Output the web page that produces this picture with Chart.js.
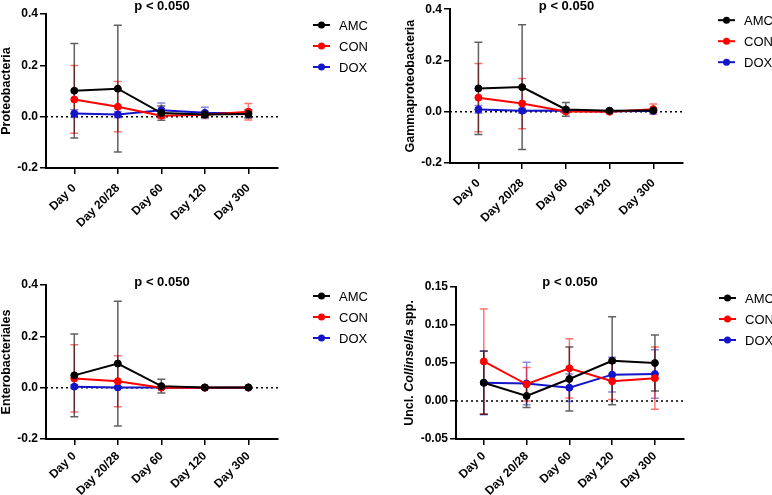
<!DOCTYPE html>
<html>
<head>
<meta charset="utf-8">
<script src="https://cdn.jsdelivr.net/npm/chart.js@4.4.1/dist/chart.umd.min.js"></script>
<style>
  body { margin: 0; background: #fff; }
  #wrap { position: relative; width: 772px; height: 495px; overflow: hidden; }
  canvas { position: absolute; }
</style>
</head>
<body>
<div id="wrap">
  <canvas id="proteo" width="386" height="248" style="left:0;top:0"></canvas>
  <canvas id="gamma" width="386" height="248" style="left:386px;top:0"></canvas>
  <canvas id="entero" width="386" height="247" style="left:0;top:248px"></canvas>
  <canvas id="coll" width="386" height="247" style="left:386px;top:248px"></canvas>
</div>
<script>
const dayLabels = ['Day 0', 'Day 20/28', 'Day 60', 'Day 120', 'Day 300'];
const groupNames = ['AMC', 'CON', 'DOX'];
const groupColors = ['#000000', '#ff0000', '#1414c8'];
const barColors = ['rgba(0,0,0,0.62)', 'rgba(255,0,0,0.55)', 'rgba(20,20,200,0.5)'];

const bigTicks = [-0.2, 0, 0.2, 0.4];
const collTicks = [-0.05, 0, 0.05, 0.10, 0.15];

// Proteobacteria
const proteoAmc = [0.101, 0.109, 0.014, 0.008, 0.010];
const proteoAmcSd = [0.184, 0.247, 0.028, 0.010, 0.015];
const proteoCon = [0.067, 0.039, 0.004, 0.007, 0.019];
const proteoConSd = [0.132, 0.098, 0.010, 0.008, 0.032];
const proteoDox = [0.012, 0.008, 0.025, 0.015, 0.013];
const proteoDoxSd = [0.015, 0.012, 0.028, 0.022, 0.015];

// Gammaproteobacteria
const gammaAmc = [0.091, 0.096, 0.009, 0.004, 0.005];
const gammaAmcSd = [0.180, 0.243, 0.027, 0.004, 0.006];
const gammaCon = [0.055, 0.032, 0.001, 0.000, 0.010];
const gammaConSd = [0.133, 0.098, 0.005, 0.003, 0.020];
const gammaDox = [0.009, 0.004, 0.005, 0.002, 0.003];
const gammaDoxSd = [0.015, 0.010, 0.010, 0.003, 0.004];

// Enterobacteriales
const enteroAmc = [0.048, 0.094, 0.006, 0.001, 0.001];
const enteroAmcSd = [0.161, 0.243, 0.027, 0.001, 0.002];
const enteroCon = [0.036, 0.025, 0.000, 0.000, 0.001];
const enteroConSd = [0.131, 0.099, 0.004, 0.001, 0.001];
const enteroDox = [0.004, 0.001, 0.001, 0.000, 0.000];
const enteroDoxSd = [0.007, 0.003, 0.003, 0.001, 0.001];

// Uncl. Collinsella spp.
const collAmc = [0.024, 0.0066, 0.029, 0.053, 0.050];
const collAmcSd = [0.0415, 0.015, 0.042, 0.058, 0.037];
const collCon = [0.052, 0.022, 0.043, 0.026, 0.030];
const collConSd = [0.069, 0.022, 0.039, 0.024, 0.041];
const collDox = [0.024, 0.023, 0.0175, 0.0347, 0.0355];
const collDoxSd = [0.042, 0.028, 0.018, 0.023, 0.032];

const fontFamily = "'Liberation Sans', Arial, Helvetica, sans-serif";

// dotted zero line + mean ± SD whiskers, under the lines
const errorBars = {
  id: 'errorBars',
  beforeDatasetsDraw(chart) {
    const { ctx, chartArea, scales: { x, y } } = chart;
    const zy = y.getPixelForValue(0);
    ctx.save();
    ctx.strokeStyle = '#000';
    ctx.lineWidth = 1.5;
    ctx.setLineDash([2, 3]);
    ctx.beginPath();
    ctx.moveTo(chartArea.left, zy);
    ctx.lineTo(chartArea.right, zy);
    ctx.stroke();
    ctx.setLineDash([]);

    for (let d = chart.data.datasets.length - 1; d >= 0; d -= 1) {
      const ds = chart.data.datasets[d];
      ctx.strokeStyle = ds.barColor;
      ds.data.forEach((p, i) => {
        const px = x.getPixelForValue(p.x);
        const hi = y.getPixelForValue(p.y + ds.sd[i]);
        const lo = y.getPixelForValue(p.y - ds.sd[i]);
        ctx.beginPath();
        ctx.moveTo(px, hi);
        ctx.lineTo(px, lo);
        ctx.moveTo(px - 4, hi);
        ctx.lineTo(px + 4, hi);
        ctx.moveTo(px - 4, lo);
        ctx.lineTo(px + 4, lo);
        ctx.stroke();
      });
    }
    ctx.restore();
  },
};

// title, y-axis title (with italic part) and legend
const decorations = {
  id: 'decorations',
  afterDraw(chart, args, opts) {
    const { ctx, chartArea, scales: { y } } = chart;
    ctx.save();
    ctx.fillStyle = '#000';

    ctx.font = `bold 13px ${fontFamily}`;
    ctx.textAlign = 'center';
    ctx.textBaseline = 'middle';
    ctx.fillText(opts.title, (chartArea.left + chartArea.right) / 2, chartArea.top + opts.titleOffset);

    ctx.font = `bold 12px ${fontFamily}`;
    const labelW = Math.max(...y.ticks.map((t) => ctx.measureText(String(t.label)).width));
    const tx = chartArea.left - 8 - labelW - 11;
    const ty = (chartArea.top + chartArea.bottom) / 2;
    const fontFor = (seg) => `${seg.italic ? 'italic ' : ''}bold 12.5px ${fontFamily}`;
    let total = 0;
    opts.yTitle.forEach((seg) => {
      ctx.font = fontFor(seg);
      total += ctx.measureText(seg.text).width;
    });
    ctx.translate(tx, ty);
    ctx.rotate(-Math.PI / 2);
    ctx.textAlign = 'left';
    let cx = -total / 2;
    opts.yTitle.forEach((seg) => {
      ctx.font = fontFor(seg);
      ctx.fillText(seg.text, cx, 0);
      cx += ctx.measureText(seg.text).width;
    });
    ctx.setTransform(1, 0, 0, 1, 0, 0);

    ctx.font = `13px ${fontFamily}`;
    ctx.textAlign = 'left';
    chart.data.datasets.forEach((ds, i) => {
      const lx = chartArea.right + 35;
      const ly = chartArea.top + 11 + i * 21;
      ctx.strokeStyle = ds.borderColor;
      ctx.lineWidth = 2;
      ctx.beginPath();
      ctx.moveTo(lx, ly);
      ctx.lineTo(lx + 17, ly);
      ctx.stroke();
      ctx.fillStyle = ds.borderColor;
      ctx.beginPath();
      ctx.arc(lx + 8.5, ly, 3.5, 0, Math.PI * 2);
      ctx.fill();
      ctx.fillStyle = '#000';
      ctx.fillText(ds.label, lx + 26, ly + 1);
    });
    ctx.restore();
  },
};

const makePanel = (canvasId, cfg) => {
  const tickFont = { family: fontFamily, size: 12, weight: 'bold' };
  new Chart(document.getElementById(canvasId), {
    type: 'line',
    data: {
      datasets: groupNames.map((name, g) => ({
        label: name,
        data: cfg.means[g].map((v, i) => ({ x: i, y: v })),
        sd: cfg.sds[g],
        barColor: barColors[g],
        borderColor: groupColors[g],
        backgroundColor: groupColors[g],
        borderWidth: 2,
        pointRadius: 3.5,
        pointHoverRadius: 3.5,
        pointBorderWidth: 1,
        tension: 0,
      })),
    },
    options: {
      responsive: false,
      animation: false,
      events: [],
      layout: { padding: { top: cfg.top, right: cfg.right, bottom: 0, left: 0 } },
      plugins: {
        legend: { display: false },
        tooltip: { enabled: false },
        decorations: { title: 'p < 0.050', titleOffset: cfg.titleOffset, yTitle: cfg.yTitle },
      },
      scales: {
        x: {
          type: 'linear',
          min: -0.65,
          max: 4.68,
          afterBuildTicks: (s) => { s.ticks = dayLabels.map((_, i) => ({ value: i })); },
          afterFit: (s) => { s.height = cfg.xHeight; },
          ticks: {
            callback: (v) => dayLabels[v],
            minRotation: 45,
            maxRotation: 45,
            color: '#000',
            font: tickFont,
            padding: cfg.labelPad,
          },
          grid: { drawOnChartArea: false, drawTicks: true, tickLength: 6, color: '#000', lineWidth: 1.5 },
          border: { color: '#000', width: 2 },
        },
        y: {
          min: cfg.yTicks[0],
          max: cfg.yTicks[cfg.yTicks.length - 1],
          afterBuildTicks: (s) => { s.ticks = cfg.yTicks.map((value) => ({ value })); },
          afterFit: (s) => { s.width = cfg.yWidth; },
          ticks: {
            callback: (v) => v.toFixed(cfg.decimals),
            color: '#000',
            font: tickFont,
            padding: 2,
          },
          grid: { drawOnChartArea: false, drawTicks: true, tickLength: 6, color: '#000', lineWidth: 1.5 },
          border: { color: '#000', width: 2 },
        },
      },
    },
    plugins: [errorBars, decorations],
  });
};

makePanel('proteo', {
  means: [proteoAmc, proteoCon, proteoDox],
  sds: [proteoAmcSd, proteoConSd, proteoDoxSd],
  yTicks: bigTicks, decimals: 1,
  top: 14, right: 108, yWidth: 46, xHeight: 80, labelPad: 7, titleOffset: -8,
  yTitle: [{ text: 'Proteobacteria' }],
});

makePanel('gamma', {
  means: [gammaAmc, gammaCon, gammaDox],
  sds: [gammaAmcSd, gammaConSd, gammaDoxSd],
  yTicks: bigTicks, decimals: 1,
  top: 9, right: 89, yWidth: 64, xHeight: 85, labelPad: 7, titleOffset: -3,
  yTitle: [{ text: 'Gammaproteobacteria' }],
});

makePanel('entero', {
  means: [enteroAmc, enteroCon, enteroDox],
  sds: [enteroAmcSd, enteroConSd, enteroDoxSd],
  yTicks: bigTicks, decimals: 1,
  top: 37, right: 108, yWidth: 46, xHeight: 56, labelPad: 4, titleOffset: -3,
  yTitle: [{ text: 'Enterobacteriales' }],
});

makePanel('coll', {
  means: [collAmc, collCon, collDox],
  sds: [collAmcSd, collConSd, collDoxSd],
  yTicks: collTicks, decimals: 2,
  top: 39, right: 88, yWidth: 70, xHeight: 56, labelPad: 4, titleOffset: -5,
  yTitle: [{ text: 'Uncl. ' }, { text: 'Collinsella', italic: true }, { text: ' spp.' }],
});
</script>
</body>
</html>
